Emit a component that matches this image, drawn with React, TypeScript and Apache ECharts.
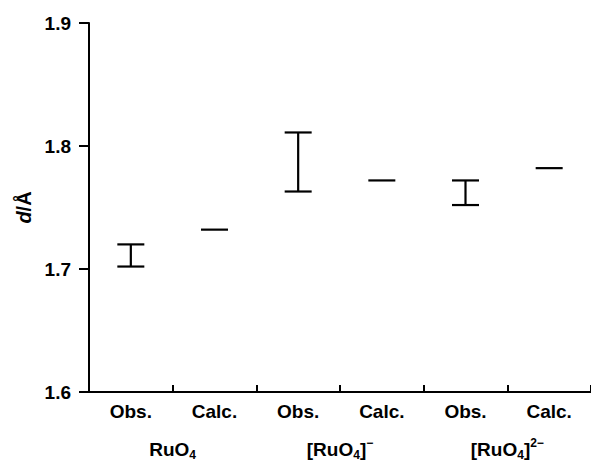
import React, { useEffect, useRef } from "react";
import * as echarts from "echarts";

const categories = ["Obs.", "Calc.", "Obs.", "Calc.", "Obs.", "Calc."];
const groups = ["RuO4", "[RuO4]-", "[RuO4]2-"];
// [categoryIndex, low, high]
const observed = [
  [0, 1.702, 1.72],
  [2, 1.763, 1.811],
  [4, 1.752, 1.772],
];
// [categoryIndex, value]
const calculated = [
  [1, 1.732],
  [3, 1.772],
  [5, 1.782],
];
const yMin = 1.6;
const yMax = 1.9;
const yStep = 0.1;

const FONT = "'Liberation Sans', Arial, Helvetica, sans-serif";

const groupRich: Record<string, string> = {
  "RuO4": "{b|RuO}{sub|4}",
  "[RuO4]-": "{b|[RuO}{sub|4}{b|]}{sup|\u2212}",
  "[RuO4]2-": "{b|[RuO}{sub|4}{b|]}{sup|2\u2212}",
};

export default function App() {
  const ref = useRef<HTMLDivElement>(null);
  useEffect(() => {
    if (!ref.current) return;
    const chart = echarts.init(ref.current, undefined, { renderer: "svg" });
    const capHalf = 13.5;
    const errRender = (params: any, api: any) => {
      const idx = api.value(0);
      const lo = api.coord([idx, api.value(1)]);
      const hi = api.coord([idx, api.value(2)]);
      const style = { stroke: "#000", lineWidth: 2.2 };
      return {
        type: "group",
        children: [
          { type: "line", shape: { x1: lo[0], y1: lo[1], x2: hi[0], y2: hi[1] }, style },
          { type: "line", shape: { x1: lo[0] - capHalf, y1: lo[1], x2: lo[0] + capHalf, y2: lo[1] }, style },
          { type: "line", shape: { x1: hi[0] - capHalf, y1: hi[1], x2: hi[0] + capHalf, y2: hi[1] }, style },
        ],
      };
    };
    const calcRender = (params: any, api: any) => {
      const p = api.coord([api.value(0), api.value(1)]);
      return {
        type: "line",
        shape: { x1: p[0] - capHalf, y1: p[1], x2: p[0] + capHalf, y2: p[1] },
        style: { stroke: "#000", lineWidth: 2.2 },
      };
    };
    chart.setOption({
      animation: false,
      backgroundColor: "#fff",
      textStyle: { fontFamily: FONT },
      grid: { left: 89, right: 0, top: 23, bottom: 68, containLabel: false },
      xAxis: [
        {
          type: "category",
          data: categories,
          position: "bottom",
          boundaryGap: true,
          axisLine: { show: true, lineStyle: { color: "#000", width: 2 } },
          axisTick: {
            show: true,
            inside: true,
            length: 7,
            interval: (i: number) => i !== 0,
            lineStyle: { color: "#000", width: 2 },
          },
          axisLabel: {
            interval: 0,
            color: "#000",
            fontFamily: FONT,
            fontWeight: "bold",
            fontSize: 19,
            margin: 10,
          },
          splitLine: { show: false },
        },
        {
          type: "category",
          data: groups,
          position: "bottom",
          boundaryGap: true,
          axisLine: { show: false },
          axisTick: { show: false },
          axisLabel: {
            interval: 0,
            hideOverlap: false,
            color: "#000",
            margin: 45,
            fontSize: 19,
            fontWeight: "bold",
            formatter: (v: string) => groupRich[v] || v,
            rich: {
              b: { fontFamily: FONT, fontWeight: "bold", fontSize: 19, lineHeight: 24, color: "#000" },
              sub: { fontFamily: FONT, fontWeight: "bold", fontSize: 12, lineHeight: 8, verticalAlign: "bottom", color: "#000" },
              sup: { fontFamily: FONT, fontWeight: "bold", fontSize: 12, lineHeight: 14, verticalAlign: "top", color: "#000" },
            },
          },
          splitLine: { show: false },
        },
      ],
      yAxis: {
        type: "value",
        min: yMin,
        max: yMax,
        interval: yStep,
        name: "{i|d}{n|/\u00c5}",
        nameLocation: "middle",
        nameRotate: 90,
        nameGap: 55,
        nameTextStyle: {
          fontSize: 20,
          fontWeight: "bold",
          fontFamily: FONT,
          color: "#000",
          rich: {
            i: { fontFamily: FONT, fontStyle: "italic", fontWeight: "bold", fontSize: 20, color: "#000" },
            n: { fontFamily: FONT, fontWeight: "bold", fontSize: 20, color: "#000" },
          },
        },
        axisLine: { show: true, lineStyle: { color: "#000", width: 2 } },
        axisTick: { show: true, inside: false, length: 10, lineStyle: { color: "#000", width: 2 } },
        axisLabel: {
          color: "#000",
          fontFamily: FONT,
          fontWeight: "bold",
          fontSize: 19,
          margin: 18,
          formatter: (v: number) => v.toFixed(1),
        },
        splitLine: { show: false },
      },
      series: [
        {
          type: "custom",
          name: "Obs.",
          xAxisIndex: 0,
          renderItem: errRender,
          encode: { x: 0, y: [1, 2] },
          data: observed,
          z: 10,
        },
        {
          type: "custom",
          name: "Calc.",
          xAxisIndex: 0,
          renderItem: calcRender,
          encode: { x: 0, y: 1 },
          data: calculated,
          z: 10,
        },
      ],
    });
    return () => chart.dispose();
  }, []);
  return <div ref={ref} style={{ width: 591, height: 461, position: "absolute", left: 0, top: 0 }} />;
}
